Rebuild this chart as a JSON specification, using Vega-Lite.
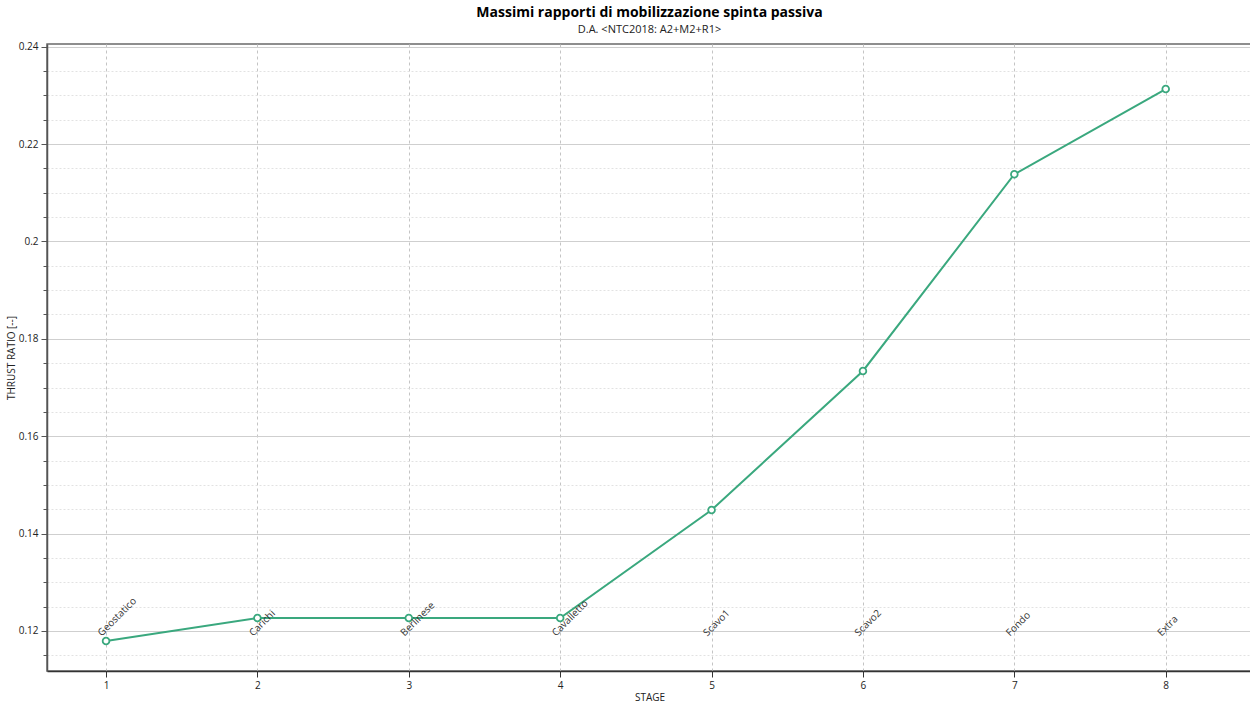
{
  "$schema": "https://vega.github.io/schema/vega-lite/v6.json",
  "autosize": {"type": "none"},
  "width": 1205,
  "height": 627,
  "padding": {"left": 47, "top": 44, "right": 0, "bottom": 33},
  "background": "white",
  "config": {
    "font": "Open Sans",
    "view": {"stroke": "#6a6a6a", "strokeWidth": 1.5},
    "axis": {"labelFont": "Open Sans", "titleFont": "Open Sans", "labelColor": "#222", "titleColor": "#222", "titleFontWeight": "normal"}
  },
  "title": {
    "text": "Massimi rapporti di mobilizzazione spinta passiva",
    "subtitle": "D.A. <NTC2018: A2+M2+R1>",
    "anchor": "middle",
    "font": "Open Sans",
    "fontSize": 14,
    "fontWeight": "bold",
    "color": "#000",
    "subtitleFont": "Open Sans",
    "subtitleFontSize": 11,
    "subtitleColor": "#222",
    "subtitlePadding": 4,
    "offset": 7
  },
  "data": {
    "values": [
      {"stage": 1, "name": "Geostatico", "ratio": 0.11795},
      {"stage": 2, "name": "Carichi", "ratio": 0.12267},
      {"stage": 3, "name": "Berlinese", "ratio": 0.12267},
      {"stage": 4, "name": "Cavalletto", "ratio": 0.12267},
      {"stage": 5, "name": "Scavo1", "ratio": 0.14485},
      {"stage": 6, "name": "Scavo2", "ratio": 0.1734},
      {"stage": 7, "name": "Fondo", "ratio": 0.2138},
      {"stage": 8, "name": "Extra", "ratio": 0.2313}
    ]
  },
  "resolve": {"scale": {"y": "shared", "x": "shared"}, "axis": {"y": "independent", "x": "independent"}},
  "layer": [
    {
      "mark": {"type": "line", "color": "#3aa87e", "strokeWidth": 2, "opacity": 0},
      "encoding": {
        "x": {
          "field": "stage", "type": "quantitative",
          "scale": {"domain": [0.61, 8.57], "nice": false, "zero": false},
          "axis": {
            "values": [1, 2, 3, 4, 5, 6, 7, 8],
            "format": "d",
            "title": "STAGE",
            "titleFontSize": 10,
            "titlePadding": 2,
            "labelFontSize": 10,
            "labelPadding": 3,
            "domainColor": "#333",
            "domainWidth": 1.5,
            "tickColor": "#333",
            "tickSize": 6,
            "grid": true,
            "gridColor": "#c4c4c4",
            "gridDash": [3, 3],
            "gridWidth": 1
          }
        },
        "y": {
          "field": "ratio", "type": "quantitative",
          "scale": {"domain": [0.11178, 0.24055], "nice": false, "zero": false},
          "axis": {
            "orient": "left",
            "values": [0.115, 0.125, 0.13, 0.135, 0.145, 0.15, 0.155, 0.165, 0.17, 0.175, 0.185, 0.19, 0.195, 0.205, 0.21, 0.215, 0.225, 0.23, 0.235],
            "labels": false,
            "title": null,
            "domain": false,
            "grid": true,
            "gridColor": "#e2e2e2",
            "gridDash": [2, 2],
            "gridWidth": 1,
            "ticks": true,
            "tickSize": 4,
            "tickColor": "#555",
            "tickWidth": 1
          }
        }
      }
    },
    {
      "mark": {"type": "line", "color": "#3aa87e", "strokeWidth": 2},
      "encoding": {
        "x": {"field": "stage", "type": "quantitative", "axis": null},
        "y": {
          "field": "ratio", "type": "quantitative",
          "axis": {
            "orient": "left",
            "values": [0.12, 0.14, 0.16, 0.18, 0.2, 0.22, 0.24],
            "format": "~g",
            "title": "THRUST RATIO [--]",
            "titleFontSize": 10,
            "titlePadding": 2,
            "labelFontSize": 10,
            "labelPadding": 3,
            "domainColor": "#555",
            "domainWidth": 1.5,
            "tickColor": "#555",
            "tickSize": 6,
            "grid": true,
            "gridColor": "#cfcfcf",
            "gridWidth": 1
          }
        }
      }
    },
    {
      "mark": {"type": "point", "shape": "circle", "filled": true, "fill": "white", "stroke": "#3aa87e", "strokeWidth": 1.8, "size": 45, "opacity": 1},
      "encoding": {
        "x": {"field": "stage", "type": "quantitative", "axis": null},
        "y": {"field": "ratio", "type": "quantitative", "axis": null}
      }
    },
    {
      "mark": {"type": "text", "angle": -45, "align": "left", "baseline": "alphabetic", "dx": -7, "dy": 1, "fontSize": 10, "color": "#333", "font": "Open Sans"},
      "encoding": {
        "x": {"field": "stage", "type": "quantitative", "axis": null},
        "y": {"datum": 0.12, "type": "quantitative", "axis": null},
        "text": {"field": "name"}
      }
    }
  ]
}
